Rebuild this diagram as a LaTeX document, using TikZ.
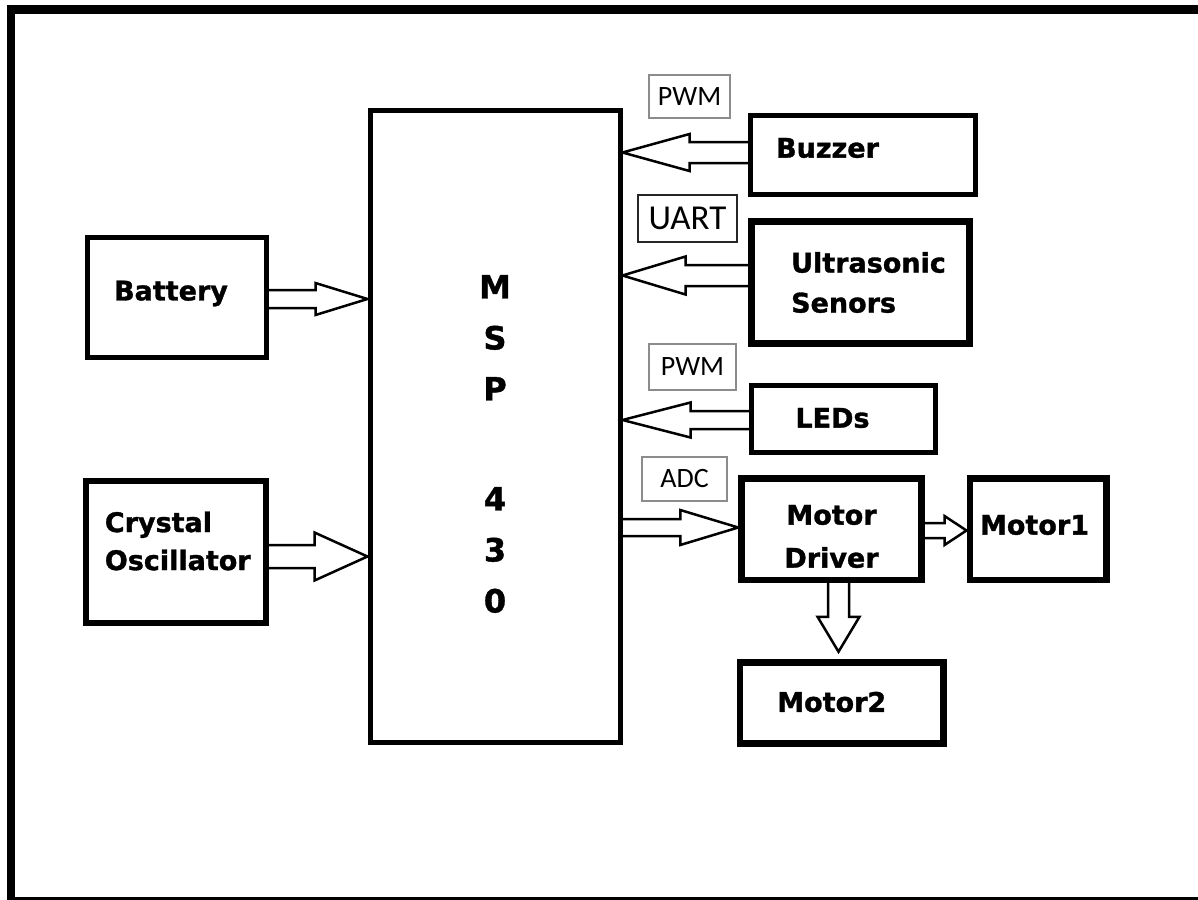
\documentclass[tikz,border=0pt]{standalone}
\usepackage{fontspec}
\setmainfont{DejaVu Sans}
\newfontfamily\boxfont{DejaVu Sans}[FakeBold=1.2]
\newfontfamily\lblfont{Carlito}
\usetikzlibrary{calc}
\newcommand{\harr}[5]{%
 \draw[barrow] let \p1=(#1), \p2=(#2), \n1={sign(\x2-\x1)} in
 (\x1,\y2+#3pt) -- (\x2-\n1*#5pt,\y2+#3pt) -- (\x2-\n1*#5pt,\y2+#4pt) -- (\x2,\y2)
 -- (\x2-\n1*#5pt,\y2-#4pt) -- (\x2-\n1*#5pt,\y2-#3pt) -- (\x1,\y2-#3pt);}
\newcommand{\varr}[5]{%
 \draw[barrow] let \p1=(#1), \p2=(#2), \n1={sign(\y2-\y1)} in
 (\x2+#3pt,\y1) -- (\x2+#3pt,\y2-\n1*#5pt) -- (\x2+#4pt,\y2-\n1*#5pt) -- (\x2,\y2)
 -- (\x2-#4pt,\y2-\n1*#5pt) -- (\x2-#3pt,\y2-\n1*#5pt) -- (\x2-#3pt,\y1);}
\tikzset{
 blk/.style={draw, line width=4.5pt, inner sep=0pt},
 blkthick/.style={blk, line width=6.5pt},
 txt/.style={font=\boxfont\bfseries\fontsize{27}{40}\selectfont, align=center, inner sep=0pt},
 tag/.style={draw=black!45, line width=1.5pt, inner sep=0pt, text=black, font=\lblfont\fontsize{28}{30}\selectfont},
 barrow/.style={draw, line width=2.5pt, line join=miter}
}
\begin{document}
\begin{tikzpicture}[x=1pt,y=-1pt]
\useasboundingbox (0,0) rectangle (1198,899);
\clip (0,0) rectangle (1198,899);
\fill[white] (0,0) rectangle (1198,899);
\draw[line width=8.5pt] (11,9.5) rectangle (1215,901.5);

\node[blk, line width=5pt, minimum width=250pt, minimum height=632pt,
  label={[txt, font=\boxfont\bfseries\fontsize{32}{51}\selectfont, yshift=-18pt]center:{M\\S\\P\\[59pt]4\\3\\0}}] (msp) at (495,426) {};

\node[blk, minimum width=225pt, minimum height=79pt,
  label={[txt, xshift=-35.5pt, yshift=7pt]center:Buzzer}] (buzzer) at (863,155) {};
\node[blkthick, minimum width=218pt, minimum height=122pt,
  label={[txt, align=left, xshift=8pt]center:{Ultrasonic\\Senors}}] (us) at (860.5,282.5) {};
\node[blk, line width=5pt, minimum width=184pt, minimum height=67pt,
  label={[txt, xshift=-11pt, yshift=1pt]center:LEDs}] (leds) at (843.5,419) {};
\node[blkthick, minimum width=180pt, minimum height=101.5pt,
  label={[txt, font=\boxfont\bfseries\fontsize{27}{43}\selectfont, yshift=-7.5pt]center:{Motor\\Driver}}] (md) at (831.5,529) {};
\node[blkthick, minimum width=136.5pt, minimum height=101.5pt,
  label={[txt, xshift=-3.5pt, yshift=4pt]center:Motor1}] (m1) at (1038,529) {};
\node[blkthick, minimum width=203.5pt, minimum height=81pt,
  label={[txt, xshift=-10pt, yshift=1pt]center:Motor2}] (m2) at (841.75,703) {};
\node[blk, line width=5pt, minimum width=179pt, minimum height=120pt,
  label={[txt, xshift=-6pt, yshift=4pt]center:Battery}] (bat) at (177,297.5) {};
\node[blk, line width=6pt, minimum width=179.5pt, minimum height=142pt,
  label={[txt, align=left, font=\boxfont\bfseries\fontsize{27}{38}\selectfont, xshift=2pt, yshift=11pt]center:{Crystal\\Oscillator}}] (xtal) at (175.75,552) {};

\node[tag, minimum width=81pt, minimum height=43pt] (pwma) at (689.5,96.5) {PWM};
\node[tag, draw=black!85, line width=2pt, minimum width=99pt, minimum height=47pt,
  font=\lblfont\fontsize{35}{36}\selectfont] (uart) at (687.5,218.5) {UART};
\node[tag, minimum width=87pt, minimum height=46pt] (pwmb) at (692.5,367) {PWM};
\node[tag, minimum width=85pt, minimum height=44pt] (adc) at (684.5,479) {ADC};

\harr{buzzer.west}{$(msp.east|-buzzer.west)+(0,-2.5)$}{10.5}{18.5}{67}
\harr{us.west}{$(msp.east|-us.west)+(0,-7)$}{10.5}{19}{63}
\harr{leds.west}{$(msp.east|-leds.west)+(0,1)$}{9}{17.5}{68}
\harr{msp.east|-md.west}{$(md.west)+(0,-1.5)$}{8.5}{17.5}{58}
\harr{md.east}{$(m1.west)+(0,1.5)$}{7.5}{14.5}{22}
\harr{bat.east}{$(msp.west|-bat.east)+(0,1.5)$}{9}{16}{52}
\harr{xtal.east}{$(msp.west|-xtal.east)+(0,4.5)$}{11.5}{24}{53}
\varr{md.south}{$(m2.north)+(-3.25,-7.5)$}{10.5}{21}{35}
\end{tikzpicture}
\end{document}
